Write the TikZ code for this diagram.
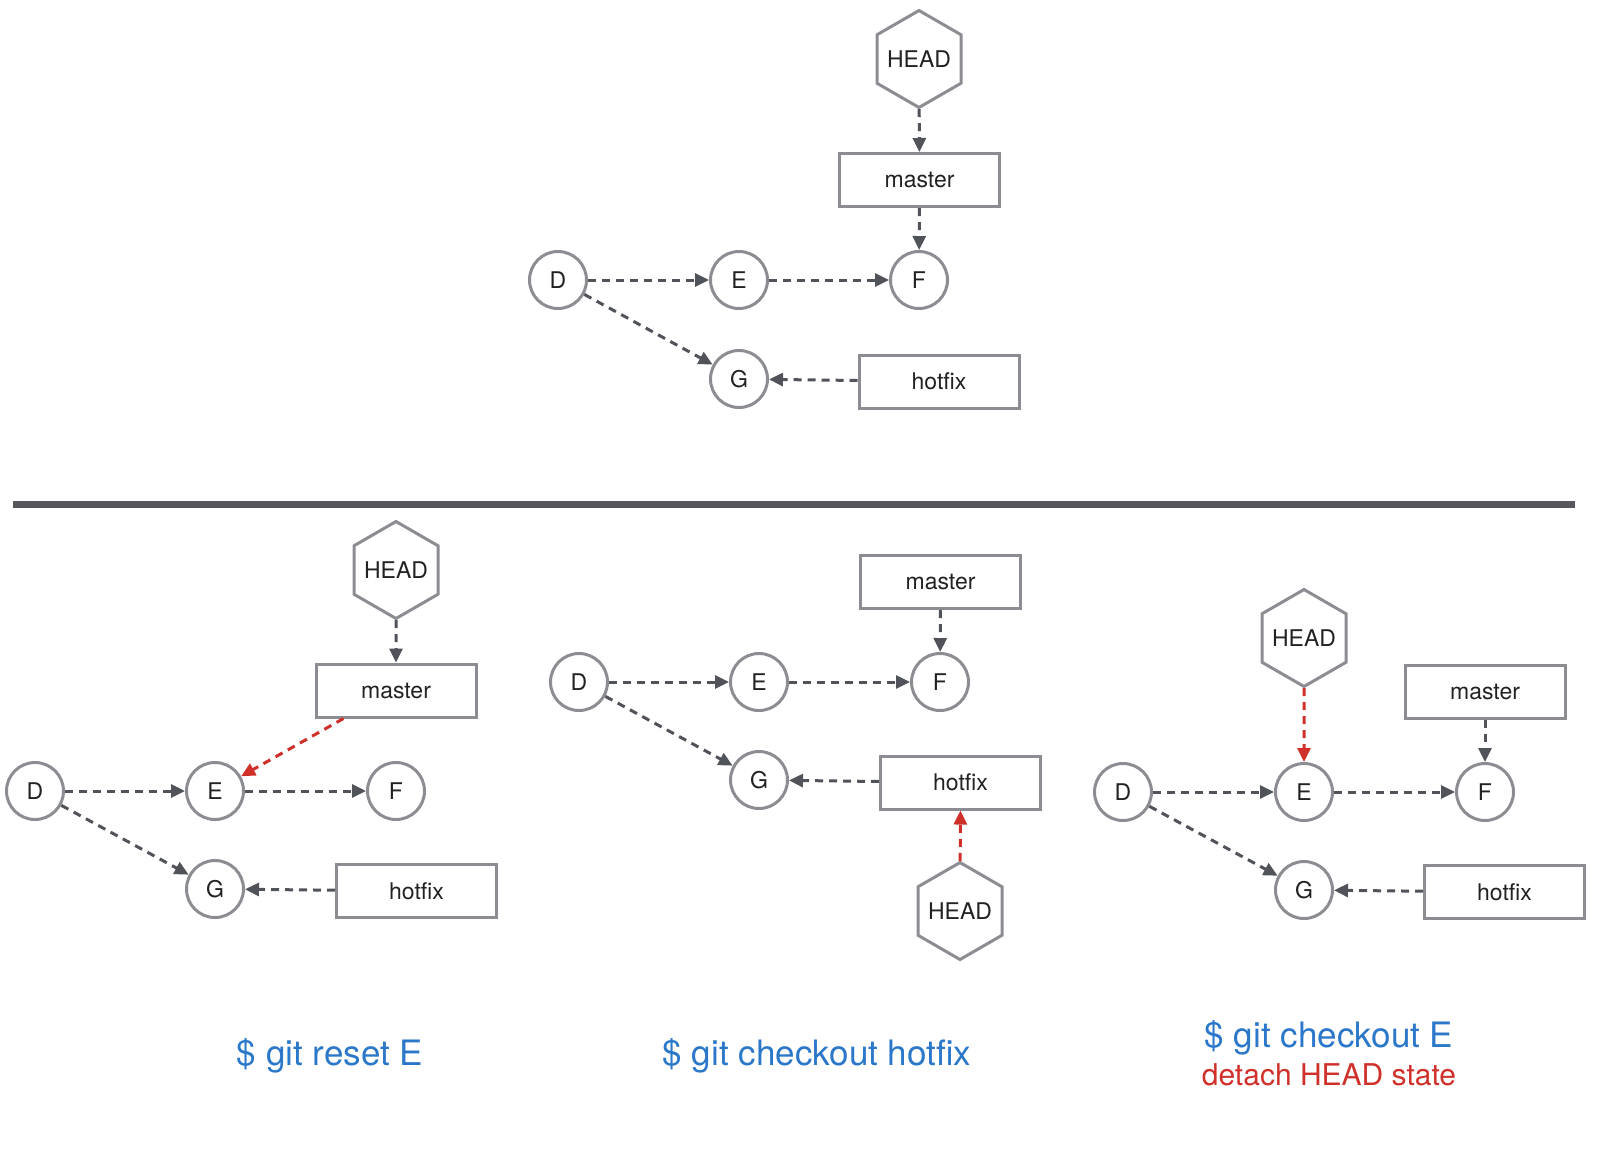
\documentclass[tikz,border=0pt]{standalone}
\usepackage{fontspec}
\setmainfont{TeX Gyre Heros}
\usetikzlibrary{shapes.geometric,arrows.meta}
\definecolor{nodegray}{HTML}{8C8D92}
\definecolor{arrowgray}{HTML}{50535A}
\definecolor{gitred}{HTML}{D0302A}
\definecolor{gitblue}{HTML}{2B77C9}
\definecolor{txt}{HTML}{222222}
\definecolor{sepgray}{HTML}{55575C}
\begin{document}
\begin{tikzpicture}[x=1pt,y=-1pt,
  commit/.style={circle,draw=nodegray,line width=3pt,minimum size=57pt,inner sep=0pt,
    font=\fontsize{23}{26}\selectfont,text=txt,fill=white},
  branch/.style={rectangle,draw=nodegray,line width=3pt,minimum width=160pt,minimum height=53pt,
    inner sep=0pt,font=\fontsize{23}{26}\selectfont,text=txt,fill=white},
  headhex/.style={regular polygon,regular polygon sides=6,shape border rotate=30,
    draw=nodegray,line width=3pt,minimum size=97pt,inner sep=-12pt,
    font=\fontsize{23}{26}\selectfont,text=txt,fill=white},
  link/.style={draw=arrowgray,line width=3pt,dash pattern=on 8pt off 6pt,
    -{Triangle[length=14pt,width=13pt]}},
  redlink/.style={link,draw=gitred,-{Triangle[length=14pt,width=13pt,color=gitred]}},
  cmd/.style={anchor=base,text=gitblue,font=\fontsize{35}{40}\selectfont},
  note/.style={anchor=base,text=gitred,font=\fontsize{30}{34}\selectfont}]
\useasboundingbox (0,0) rectangle (1600,1163);

% ---------- top ----------
\node[headhex] (h1) at (919,59) {HEAD};
\node[branch] (m1) at (919.5,180) {master};
\node[commit] (d1) at (558,280) {D};
\node[commit] (e1) at (739,280) {E};
\node[commit] (f1) at (919,280) {F};
\node[commit] (g1) at (739,379) {G};
\node[branch] (hf1) at (939,381.5) {hotfix};
\draw[link] (h1) -- (m1);
\draw[link] (m1) -- (f1);
\draw[link] (d1) -- (e1);
\draw[link] (e1) -- (f1);
\draw[link] (d1) -- (g1);
\draw[link] (hf1) -- (g1);

% ---------- separator ----------
\coordinate (sepL) at (13,504);
\coordinate (sepR) at (1575,504);
\draw[sepgray,line width=7pt] (sepL) -- (sepR);

% ---------- bottom left ----------
\node[headhex] (h2) at (396,570) {HEAD};
\node[branch] (m2) at (396,690.5) {master};
\node[commit] (d2) at (35,791) {D};
\node[commit] (e2) at (215,791) {E};
\node[commit] (f2) at (396,791) {F};
\node[commit] (g2) at (215,889) {G};
\node[branch] (hf2) at (416.5,891) {hotfix};
\coordinate (m2out) at ([xshift=29pt]m2.south west);
\draw[link] (h2) -- (m2);
\draw[link] (d2) -- (e2);
\draw[link] (e2) -- (f2);
\draw[link] (d2) -- (g2);
\draw[link] (hf2) -- (g2);
\draw[redlink] (m2out) -- (e2);

% ---------- bottom middle ----------
\node[branch] (m3) at (940.5,582) {master};
\node[commit] (d3) at (579,682) {D};
\node[commit] (e3) at (759,682) {E};
\node[commit] (f3) at (940,682) {F};
\node[commit] (g3) at (759,780) {G};
\node[branch] (hf3) at (960.5,782.5) {hotfix};
\node[headhex] (h3) at (960,911) {HEAD};
\draw[link] (m3) -- (f3);
\draw[link] (d3) -- (e3);
\draw[link] (e3) -- (f3);
\draw[link] (d3) -- (g3);
\draw[link] (hf3) -- (g3);
\draw[redlink] (h3) -- (hf3);

% ---------- bottom right ----------
\node[headhex] (h4) at (1304,638) {HEAD};
\node[branch] (m4) at (1485,691.5) {master};
\node[commit] (d4) at (1123,792) {D};
\node[commit] (e4) at (1304,792) {E};
\node[commit] (f4) at (1485,792) {F};
\node[commit] (g4) at (1304,890) {G};
\node[branch] (hf4) at (1504.5,892) {hotfix};
\draw[link] (m4) -- (f4);
\draw[link] (d4) -- (e4);
\draw[link] (e4) -- (f4);
\draw[link] (d4) -- (g4);
\draw[link] (hf4) -- (g4);
\draw[redlink] (h4) -- (e4);

% ---------- captions ----------
\node[cmd] (c1) at (330,1065) {\$ git reset E};
\node[cmd] (c2) at (817,1065) {\$ git checkout hotfix};
\node[cmd] (c3) at (1329,1047) {\$ git checkout E};
\node[note] (c4) at (1329,1085) {detach HEAD state};
\end{tikzpicture}
\end{document}
